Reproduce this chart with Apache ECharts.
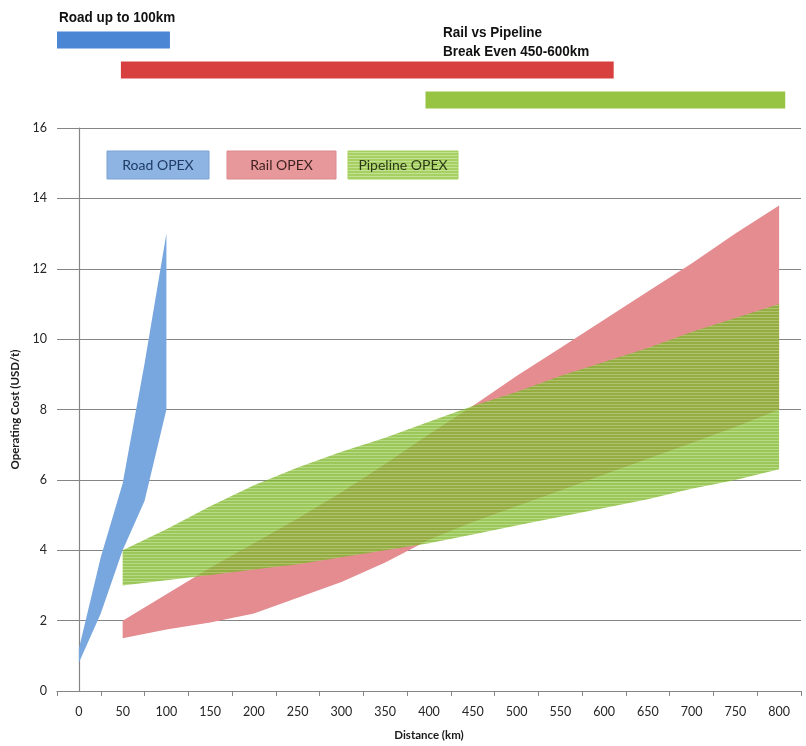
<!DOCTYPE html>
<html><head><meta charset="utf-8">
<script src="https://cdn.jsdelivr.net/npm/echarts@6/dist/echarts.min.js"></script>
<style>html,body{margin:0;padding:0;background:#fff}#c{width:806px;height:746px}</style>
</head><body><div id="c"></div>
<script>
// ---- data ----
const categories = ['0','50','100','150','200','250','300','350','400','450','500','550','600','650','700','750','800'];
const roadKm   = [0, 25, 50, 75, 100];
const roadLow  = [0.8, 2.2, 4.0, 5.4, 8.0];
const roadHigh = [1.2, 3.8, 5.9, 9.3, 13.0];
const railKm   = [50,100,150,200,250,300,350,400,450,500,550,600,650,700,750,800];
const railLow  = [1.5,1.75,1.95,2.2,2.65,3.1,3.65,4.3,4.8,5.25,5.7,6.15,6.6,7.05,7.5,8.0];
const railHigh = [2.0,2.75,3.5,4.2,4.9,5.65,6.45,7.3,8.1,8.95,9.75,10.55,11.35,12.15,13.0,13.8];
const pipeKm   = [50,100,150,200,250,300,350,400,450,500,550,600,650,700,750,800];
const pipeLow  = [3.0,3.15,3.3,3.45,3.6,3.8,4.0,4.2,4.45,4.7,4.95,5.2,5.45,5.75,6.0,6.3];
const pipeHigh = [4.0,4.6,5.25,5.85,6.35,6.8,7.2,7.65,8.1,8.5,8.95,9.35,9.75,10.2,10.6,11.0];
const rangeNames = ['Road','Rail','Pipeline'];
const rangeStart = [-25, 48, 396];
const rangeEnd   = [104, 611, 807];
const legendNames = ['Road OPEX','Rail OPEX','Pipeline OPEX'];

// ---- helpers ----
function hatch(c1, c2){
  const cv = document.createElement('canvas'); cv.width = 4; cv.height = 3;
  const ctx = cv.getContext('2d');
  ctx.fillStyle = c1; ctx.fillRect(0,0,4,2);
  ctx.fillStyle = c2; ctx.fillRect(0,2,4,1);
  return {image: cv, repeat: 'repeat'};
}
function band(name, km, low, high, fill, opacity, z){
  return {
    type:'custom', name:name, xAxisIndex:1, yAxisIndex:0, z:z, silent:true,
    data: km.map((k,i)=>[k, low[i], high[i]]),
    encode:{x:0, y:[1,2]},
    renderItem:(params, api)=>{
      if (params.dataIndex !== 0) return null;
      const pts = [];
      for (let i=0;i<km.length;i++) pts.push(api.coord([km[i], high[i]]));
      for (let i=km.length-1;i>=0;i--) pts.push(api.coord([km[i], low[i]]));
      return {type:'polygon', shape:{points:pts}, style:{fill:fill, opacity:opacity}};
    }
  };
}
const FONT = 'Lato, "Open Sans", sans-serif';
const HEAD = 'bold 15px "Liberation Sans", Arial, sans-serif';
const barColors = ['#4a86d3', '#d8403f', '#98c444'];
const axisGrey = '#858585';

const chart = echarts.init(document.getElementById('c'), null, {renderer:'canvas'});
const option = {
  animation: false,
  backgroundColor: '#fff',
  grid: [
    {left:57, right:5, top:128, bottom:53},
    {left:57, right:5, top:25, height:90}
  ],
  xAxis: [
    {type:'category', gridIndex:0, data:categories, boundaryGap:true,
     axisLine:{lineStyle:{color:axisGrey, width:1.2}}, axisTick:{show:true, length:5, lineStyle:{color:axisGrey}},
     axisLabel:{color:'#262626', fontSize:12.5, fontFamily:FONT, margin:14, interval:0},
     name:'Distance (km)', nameLocation:'middle', nameGap:38,
     nameTextStyle:{fontWeight:'bold', fontSize:11.5, color:'#1a1a1a', fontFamily:FONT}},
    {type:'value', gridIndex:0, min:-25, max:825, show:false},
    {type:'value', gridIndex:1, min:-25, max:825, show:false}
  ],
  yAxis: [
    {type:'value', gridIndex:0, min:0, max:16, interval:2,
     axisLine:{show:true, lineStyle:{color:axisGrey, width:1.2}}, axisTick:{show:true, length:5, lineStyle:{color:axisGrey}},
     splitLine:{lineStyle:{color:'#858585', width:1.2}},
     axisLabel:{color:'#262626', fontSize:12.5, fontFamily:FONT, margin:10},
     name:'Operating Cost (USD/t)', nameLocation:'middle', nameGap:33, nameRotate:90,
     nameTextStyle:{fontWeight:'bold', fontSize:11.5, color:'#1a1a1a', fontFamily:FONT}},
    {type:'category', gridIndex:1, data:rangeNames, inverse:true, show:false}
  ],
  series: [
    band('Road OPEX', roadKm, roadLow, roadHigh, '#78a6de', 1, 2),
    band('Rail OPEX', railKm, railLow, railHigh, '#e48c90', 1, 3),
    band('Pipeline OPEX', pipeKm, pipeLow, pipeHigh, hatch('#7fb82e','#a4d063'), 0.78, 4),
    {type:'custom', xAxisIndex:2, yAxisIndex:1,
     data: rangeNames.map((n,i)=>[rangeStart[i], rangeEnd[i], i]),
     encode:{x:[0,1], y:2},
     renderItem:(params, api)=>{
       const s = api.coord([api.value(0), api.value(2)]);
       const e = api.coord([api.value(1), api.value(2)]);
       const h = api.size([0,1])[1]*0.57;
       return {type:'rect', shape:{x:s[0], y:s[1]-h/2, width:e[0]-s[0], height:h},
               style:{fill:barColors[params.dataIndex]}};
     }}
  ],
  graphic: [
    {type:'text', x:59, y:10, scaleX:0.9, style:{text:'Road up to 100km', font:HEAD, fill:'#111'}},
    {type:'text', x:443, y:25, scaleX:0.9, style:{text:'Rail vs Pipeline', font:HEAD, fill:'#111'}},
    {type:'text', x:443, y:44, scaleX:0.9, style:{text:'Break Even 450-600km', font:HEAD, fill:'#111'}},
    {type:'rect', shape:{x:107, y:151, width:102, height:28}, style:{fill:'#8db4e2', stroke:'#7da3d3', lineWidth:1}},
    {type:'text', x:158, y:165, style:{text:legendNames[0], font:'14px '+FONT, fill:'#1f3b66', align:'center', verticalAlign:'middle'}},
    {type:'rect', shape:{x:227, y:151, width:109, height:28}, style:{fill:'#e6989a', stroke:'#dc8a8c', lineWidth:1}},
    {type:'text', x:281.5, y:165, style:{text:legendNames[1], font:'14px '+FONT, fill:'#3d1f1f', align:'center', verticalAlign:'middle'}},
    {type:'rect', shape:{x:348, y:151, width:110, height:28}, style:{fill:hatch('#a6d162','#c4e295'), stroke:'#a6d162', lineWidth:1}},
    {type:'text', x:403, y:165, style:{text:legendNames[2], font:'14px '+FONT, fill:'#2b3a12', align:'center', verticalAlign:'middle'}}
  ]
};
chart.setOption(option);
</script></body></html>
